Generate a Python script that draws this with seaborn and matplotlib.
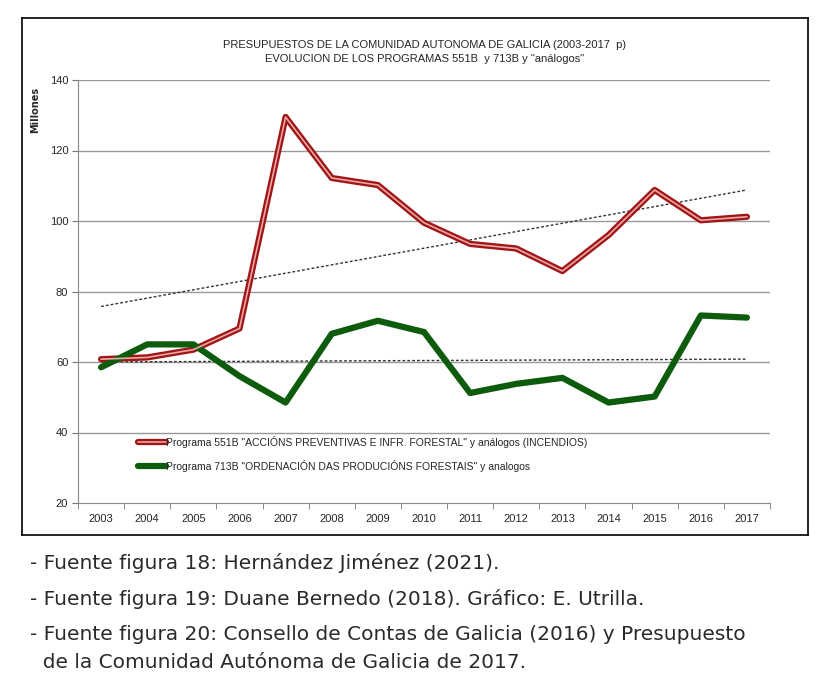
import numpy as np
import pandas as pd
import matplotlib
matplotlib.use('Agg')
import matplotlib.pyplot as plt
import seaborn as sns

years = [str(y) for y in range(2003, 2018)]
prog_551b = [60.8, 61.3, 63.5, 69.5, 129.5, 112.2, 110.2, 99.5, 93.5, 92.2, 85.8, 96.0, 108.8, 100.2, 101.2]
prog_713b = [58.5, 65.0, 65.0, 56.0, 48.5, 68.0, 71.7, 68.5, 51.2, 53.8, 55.5, 48.5, 50.2, 73.2, 72.6]
yticks = [20, 40, 60, 80, 100, 120, 140]
captions = [
    "- Fuente figura 18: Hernández Jiménez (2021).",
    "- Fuente figura 19: Duane Bernedo (2018). Gráfico: E. Utrilla.",
    "- Fuente figura 20: Consello de Contas de Galicia (2016) y Presupuesto",
    "  de la Comunidad Autónoma de Galicia de 2017.",
]

sns.set_style('white')
plt.rcParams['font.family'] = ['Liberation Sans Narrow', 'Liberation Sans', 'DejaVu Sans']

df = pd.DataFrame({'year': years, 'p551': prog_551b, 'p713': prog_713b})
x = np.arange(len(years))

fig = plt.figure(figsize=(8.39, 6.99), dpi=100)
# chart frame
frame = fig.add_axes([22 / 839, 1 - 535 / 699, 786 / 839, 517 / 699])
frame.set_xticks([]); frame.set_yticks([])
for s in frame.spines.values():
    s.set_color('black'); s.set_linewidth(1.2)
frame.patch.set_alpha(0)

ax = fig.add_axes([78 / 839, 1 - 503 / 699, 692 / 839, 423 / 699])
ax.patch.set_alpha(0)
for y in yticks[1:]:
    ax.axhline(y, color='#999999', lw=1, zorder=0)

# trend lines
for col in ['p551', 'p713']:
    k, b = np.polyfit(x, df[col], 1)
    ax.plot(x, k * x + b, color='#333333', ls=(0, (2, 1.5)), lw=1, zorder=1)

sns.lineplot(x=x, y=df['p551'], ax=ax, color='#a01515', lw=4.5, zorder=3)
sns.lineplot(x=x, y=df['p551'], ax=ax, color='#e9a7a7', lw=1.2, zorder=4)
sns.lineplot(x=x, y=df['p713'], ax=ax, color='#0d5c0d', lw=4.5, zorder=3)

ax.set_xlim(-0.5, len(years) - 0.5)
ax.set_ylim(20, 140)
ax.set_yticks(yticks)
ax.set_yticklabels([str(v) for v in yticks], fontsize=8)
ax.set_xticks(x)
ax.set_xticklabels(years, fontsize=8)
ax.set_xticks(np.arange(-0.5, len(years)), minor=True)
ax.tick_params(axis='x', which='major', length=0, pad=8)
ax.tick_params(axis='x', which='minor', length=4, color='#777777', direction='out')
ax.tick_params(axis='y', length=4, color='#777777', direction='out', pad=3)
ax.yaxis.set_ticks_position('left')
ax.xaxis.set_ticks_position('bottom')
for s in ['top', 'right']:
    ax.spines[s].set_visible(False)
for s in ['left', 'bottom']:
    ax.spines[s].set_color('#888888')
ax.set_ylabel('Millones', fontsize=7, fontweight='bold', family='DejaVu Sans')
ax.yaxis.set_label_coords(-0.055, 0.93)
ax.set_xlabel('')

# legend
ax.plot([0.8, 1.4], [37.2, 37.2], color='#a01515', lw=4.5)
ax.plot([0.8, 1.4], [37.2, 37.2], color='#e9a7a7', lw=1.2)
ax.text(1.4, 37.2, 'Programa 551B "ACCIÓNS PREVENTIVAS E INFR. FORESTAL" y análogos (INCENDIOS)',
        fontsize=7.5, va='center')
ax.plot([0.8, 1.4], [30.5, 30.5], color='#0d5c0d', lw=4.5)
ax.text(1.4, 30.5, 'Programa 713B "ORDENACIÓN DAS PRODUCIÓNS FORESTAIS" y analogos',
        fontsize=7.5, va='center')

fig.text(425 / 839, 1 - 45 / 699, 'PRESUPUESTOS DE LA COMUNIDAD AUTONOMA DE GALICIA (2003-2017  p)',
         ha='center', va='center', fontsize=8)
fig.text(425 / 839, 1 - 59 / 699, 'EVOLUCION DE LOS PROGRAMAS 551B  y 713B y "análogos"',
         ha='center', va='center', fontsize=8)

for t, yy in zip(captions, [563, 599, 635, 662]):
    fig.text(30 / 839, 1 - yy / 699, t, fontsize=14.5, color='#2a2a2a',
             va='center', family=['DejaVu Sans'])

fig.savefig('out.png', dpi=100)
